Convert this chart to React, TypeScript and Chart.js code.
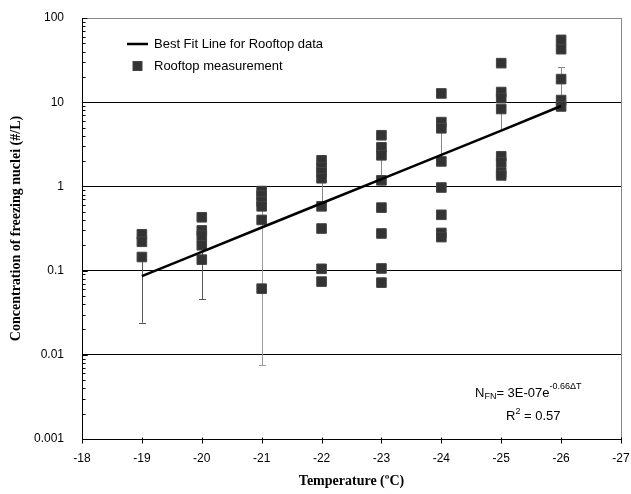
import React, { useEffect, useRef } from 'react';
import { Chart, registerables } from 'chart.js';

Chart.register(...registerables);

// ---- Data ----
const temperatures = [-19, -20, -21, -22, -23, -24, -25, -26];
const rooftopMeasurements: number[][] = [
  [0.27, 0.22, 0.145],
  [0.43, 0.3, 0.26, 0.2, 0.135],
  [0.88, 0.78, 0.66, 0.58, 0.4, 0.061],
  [2.04, 1.68, 1.47, 1.25, 0.58, 0.316, 0.105, 0.074],
  [4.05, 2.91, 2.34, 1.18, 0.56, 0.276, 0.106, 0.072],
  [12.7, 5.8, 4.9, 1.98, 0.97, 0.46, 0.28, 0.25],
  [29.1, 13.2, 11.2, 8.3, 2.28, 1.93, 1.47, 1.35],
  [55, 42.6, 18.8, 10.6, 8.9],
];
const fitValues = [0.086, 0.167, 0.325, 0.63, 1.22, 2.37, 4.6, 9.0];
const errorLow: (number | null)[] = [0.024, 0.046, 0.0075, null, null, null, null, null];
const errorHigh: (number | null)[] = [0.145, 0.26, 0.66, 1.25, 2.34, 4.9, 8.3, 26];
const errorColors = ['#555555', '#555555', '#9a9a9a', '#888888', '#888888', '#888888', '#888888', '#888888'];

const xTickValues = [-18, -19, -20, -21, -22, -23, -24, -25, -26, -27];
const yTickValues = [0.001, 0.01, 0.1, 1, 10, 100];
const yTickLabels = ['0.001', '0.01', '0.1', '1', '10', '100'];

const fitLabel = 'Best Fit Line for Rooftop data';
const measLabel = 'Rooftop measurement';
const xTitle = 'Temperature (ºC)';
const yTitle = 'Concentration of freezing nuclei (#/L)';

const SANS = '"Liberation Sans", Arial, sans-serif';
const SERIF = '"Liberation Serif", "Times New Roman", serif';

const decorPlugin = {
  id: 'decor',
  beforeDatasetsDraw(chart: any) {
    const { ctx, scales } = chart;
    const x = scales.x, y = scales.y;
    ctx.save();
    ctx.lineWidth = 1;
    temperatures.forEach((t, i) => {
      const px = Math.round(x.getPixelForValue(t)) + 0.5;
      const yc = y.getPixelForValue(fitValues[i]);
      const lo = errorLow[i];
      const hi = errorHigh[i];
      const yLo = lo != null ? y.getPixelForValue(lo) : yc;
      const yHi = hi != null ? y.getPixelForValue(hi) : yc;
      ctx.strokeStyle = errorColors[i];
      ctx.beginPath();
      ctx.moveTo(px, yLo);
      ctx.lineTo(px, yHi);
      ctx.stroke();
      const cap = (yy: number) => {
        const yr = Math.round(yy) + 0.5;
        ctx.beginPath();
        ctx.moveTo(px - 3.5, yr);
        ctx.lineTo(px + 3.5, yr);
        ctx.stroke();
      };
      if (lo != null) cap(yLo);
      if (hi != null) cap(yHi);
    });
    ctx.restore();
  },
  afterDraw(chart: any) {
    const { ctx, chartArea, scales } = chart;
    const x = scales.x, y = scales.y;
    const { left, right, top, bottom } = chartArea;
    ctx.save();
    // frame right side (gray)
    ctx.strokeStyle = '#888888';
    ctx.lineWidth = 1;
    ctx.beginPath();
    ctx.moveTo(Math.round(right) + 0.5, top);
    ctx.lineTo(Math.round(right) + 0.5, bottom);
    ctx.stroke();
    // y-axis inner ticks
    ctx.strokeStyle = '#000';
    const lx = Math.round(left) + 0.5;
    for (let d = 0.001; d < 100; d *= 10) {
      for (let k = 1; k <= 10; k++) {
        const v = k * d;
        const yy = Math.round(y.getPixelForValue(v)) + 0.5;
        const len = (k === 1 || k === 10) ? 5 : 3;
        ctx.beginPath();
        ctx.moveTo(lx, yy);
        ctx.lineTo(lx + len, yy);
        ctx.stroke();
      }
    }
    // x-axis ticks
    const by = Math.round(bottom) + 0.5;
    xTickValues.forEach((t) => {
      const px = Math.round(x.getPixelForValue(t)) + 0.5;
      ctx.beginPath();
      ctx.moveTo(px, by - 2);
      ctx.lineTo(px, by + 4);
      ctx.stroke();
    });
    // legend
    const ds = chart.data.datasets;
    const lgX = left + 45;
    const row1 = top + 26;
    const row2 = top + 48;
    ctx.strokeStyle = '#000';
    ctx.lineWidth = 2.5;
    ctx.beginPath();
    ctx.moveTo(lgX, row1);
    ctx.lineTo(lgX + 21, row1);
    ctx.stroke();
    ctx.fillStyle = '#333333';
    ctx.fillRect(lgX + 6, row2 - 4.5, 9, 9);
    ctx.strokeStyle = '#444';
    ctx.lineWidth = 1;
    ctx.strokeRect(lgX + 6, row2 - 4.5, 9, 9);
    ctx.fillStyle = '#000';
    ctx.font = '13px ' + SANS;
    ctx.textBaseline = 'middle';
    ctx.textAlign = 'left';
    ctx.fillText(ds[0].label, lgX + 27, row1);
    ctx.fillText(ds[1].label, lgX + 27, row2);
    // equation annotation
    const base1 = bottom - 42;
    let cx = right - 146;
    ctx.textBaseline = 'alphabetic';
    const part = (txt: string, size: number, dy: number) => {
      ctx.font = size + 'px ' + SANS;
      ctx.fillText(txt, cx, base1 + dy);
      cx += ctx.measureText(txt).width;
    };
    part('N', 13, 0);
    part('FN', 9, 2);
    part('= 3E-07e', 13, 0);
    part('-0.66ΔT', 9, -8);
    const base2 = bottom - 19;
    cx = right - 115;
    ctx.font = '13px ' + SANS;
    ctx.fillText('R', cx, base2);
    cx += ctx.measureText('R').width;
    ctx.font = '9px ' + SANS;
    ctx.fillText('2', cx, base2 - 6);
    cx += ctx.measureText('2').width;
    ctx.font = '13px ' + SANS;
    ctx.fillText(' = 0.57', cx, base2);
    ctx.restore();
  },
};

export default function App() {
  const canvasRef = useRef<HTMLCanvasElement | null>(null);

  useEffect(() => {
    const canvas = canvasRef.current;
    if (!canvas) return;
    const scatterData: { x: number; y: number }[] = [];
    temperatures.forEach((t, i) => {
      rooftopMeasurements[i].forEach((v) => scatterData.push({ x: t, y: v }));
    });
    const fitData = temperatures.map((t, i) => ({ x: t, y: fitValues[i] }));

    const chart = new Chart(canvas, {
      type: 'scatter',
      data: {
        datasets: [
          {
            label: fitLabel,
            data: fitData,
            showLine: true,
            borderColor: '#000',
            borderWidth: 2.6,
            pointRadius: 0,
            fill: false,
          } as any,
          {
            label: measLabel,
            data: scatterData,
            pointStyle: 'rect',
            pointRadius: 6.8,
            backgroundColor: '#333333',
            borderColor: '#444444',
            borderWidth: 1,
          } as any,
        ],
      },
      options: {
        responsive: false,
        animation: false,
        events: [],
        layout: { padding: { top: 18, right: 10, left: 0, bottom: 0 } },
        plugins: { legend: { display: false }, tooltip: { enabled: false } },
        scales: {
          x: {
            type: 'linear',
            min: -27,
            max: -18,
            reverse: true,
            afterFit: (s: any) => {
              s.height = 55;
              s.paddingLeft = 0;
              s.paddingRight = 0;
            },
            grid: { display: false, drawTicks: false },
            border: { display: true, color: '#000', width: 1 },
            ticks: {
              stepSize: 1,
              padding: 12,
              color: '#000',
              maxRotation: 0,
              autoSkip: false,
              font: { size: 12, family: SANS },
              callback: (v: any) => String(v),
            },
            title: {
              display: true,
              text: xTitle,
              color: '#000',
              font: { family: SERIF, size: 14, weight: 'bold' },
              padding: { top: 0, bottom: 4 },
            },
          },
          y: {
            type: 'logarithmic',
            min: 0.001,
            max: 100,
            afterFit: (s: any) => {
              s.width = 82;
              s.paddingTop = 0;
              s.paddingBottom = 0;
            },
            afterBuildTicks: (s: any) => { s.ticks = yTickValues.map((v) => ({ value: v })); },
            grid: {
              color: (c: any) => (c.tick && c.tick.value === 100 ? '#888888' : '#000000'),
              lineWidth: 1,
              drawTicks: false,
            },
            border: { display: true, color: '#000', width: 1 },
            ticks: {
              padding: 18,
              color: '#000',
              font: { size: 12, family: SANS },
              callback: (v: any) => {
                const idx = yTickValues.findIndex((t) => Math.abs(t - v) / t < 1e-6);
                return idx >= 0 ? yTickLabels[idx] : '';
              },
            },
            title: {
              display: true,
              text: yTitle,
              color: '#000',
              font: { family: SERIF, size: 14, weight: 'bold' },
              padding: { top: 8, bottom: 0 },
            },
          },
        },
      } as any,
      plugins: [decorPlugin],
    });
    return () => chart.destroy();
  }, []);

  return (
    <div style={{ position: 'absolute', left: 0, top: 0, width: 631, height: 494, background: '#fff' }}>
      <canvas ref={canvasRef} width={631} height={494} style={{ display: 'block' }} />
    </div>
  );
}
